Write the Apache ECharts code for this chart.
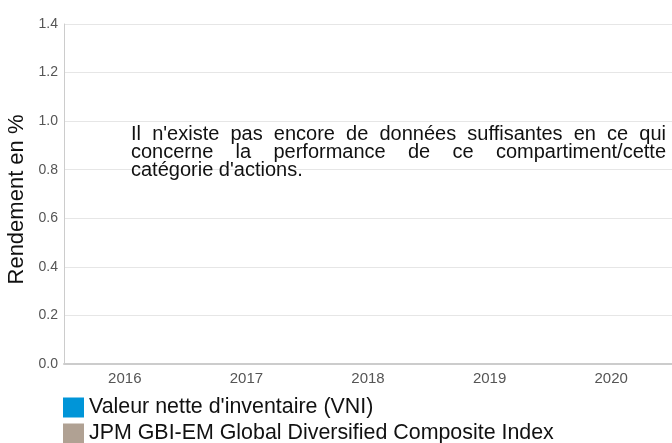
<!DOCTYPE html>
<html>
<head>
<meta charset="utf-8">
<script src="https://cdn.jsdelivr.net/npm/echarts@6/dist/echarts.min.js"></script>
<style>
  html, body { margin: 0; padding: 0; background: #fff; }
  #chart { width: 672px; height: 443px; }
</style>
</head>
<body>
<div id="chart"></div>
<script>
// données du graphique (aucune valeur disponible pour l'instant)
const years = ['2016', '2017', '2018', '2019', '2020']
const vniValues = []
const indexValues = []
const seriesNames = ["Valeur nette d'inventaire (VNI)", 'JPM GBI-EM Global Diversified Composite Index']
const yTicks = [0, 0.2, 0.4, 0.6, 0.8, 1.0, 1.2, 1.4]

const messageLines = [
  "Il n'existe pas encore de données suffisantes en ce qui",
  'concerne la performance de ce compartiment/cette',
  "catégorie d'actions."
]

const FONT = '"Liberation Sans", Arial, sans-serif'
const msgFontSize = 20
const msgLeft = 131
const msgRight = 666
const msgTop = 124
const msgLineH = 18

// mesure des mots pour justifier le texte comme dans l'original
const ctx = document.createElement('canvas').getContext('2d')
ctx.font = msgFontSize + 'px ' + FONT

function buildMessage() {
  const els = []
  messageLines.forEach((line, li) => {
    const y = msgTop + li * msgLineH
    const words = line.split(' ')
    const last = li === messageLines.length - 1
    if (last || words.length < 2) {
      els.push({ type: 'text', x: msgLeft, y: y, z: 10,
        style: { text: line, font: msgFontSize + 'px ' + FONT, fill: '#111', textVerticalAlign: 'top' } })
      return
    }
    const widths = words.map(w => ctx.measureText(w).width)
    const total = widths.reduce((a, b) => a + b, 0)
    const gap = (msgRight - msgLeft - total) / (words.length - 1)
    let x = msgLeft
    words.forEach((w, i) => {
      els.push({ type: 'text', x: x, y: y, z: 10,
        style: { text: w, font: msgFontSize + 'px ' + FONT, fill: '#111', textVerticalAlign: 'top' } })
      x += widths[i] + gap
    })
  })
  return els
}

const chart = echarts.init(document.getElementById('chart'))
chart.setOption({
  animation: false,
  grid: { left: 64, right: 0, top: 24, bottom: 79, containLabel: false, outerBoundsMode: 'none' },
  legend: {
    orient: 'vertical',
    left: 63,
    top: 397,
    height: 80,
    padding: 0,
    icon: 'rect',
    itemWidth: 21,
    itemHeight: 20,
    itemGap: 5,
    textStyle: { fontFamily: FONT, fontSize: 21.4, color: '#111' },
    data: seriesNames
  },
  xAxis: {
    type: 'category',
    data: years,
    axisLine: { lineStyle: { color: '#cccccc', width: 2 } },
    axisTick: { show: false },
    axisLabel: { fontFamily: FONT, fontSize: 15, color: '#555', margin: 7 }
  },
  yAxis: {
    type: 'value',
    min: yTicks[0],
    max: yTicks[yTicks.length - 1],
    interval: 0.2,
    name: 'Rendement en %',
    nameLocation: 'middle',
    nameRotate: 90,
    nameGap: 30,
    nameTextStyle: { fontFamily: FONT, fontSize: 22, color: '#111', padding: [0, 11, 0, 0] },
    axisLine: { show: true, lineStyle: { color: '#cccccc', width: 1 } },
    axisTick: { show: false },
    splitLine: { lineStyle: { color: '#e6e6e6' } },
    axisLabel: { fontFamily: FONT, fontSize: 14, color: '#555', margin: 6,
      formatter: v => v.toFixed(1) }
  },
  series: [
    { name: seriesNames[0], type: 'bar', data: vniValues, itemStyle: { color: '#0095d8' } },
    { name: seriesNames[1], type: 'bar', data: indexValues, itemStyle: { color: '#b0a193' } }
  ],
  graphic: buildMessage()
})
</script>
</body>
</html>
